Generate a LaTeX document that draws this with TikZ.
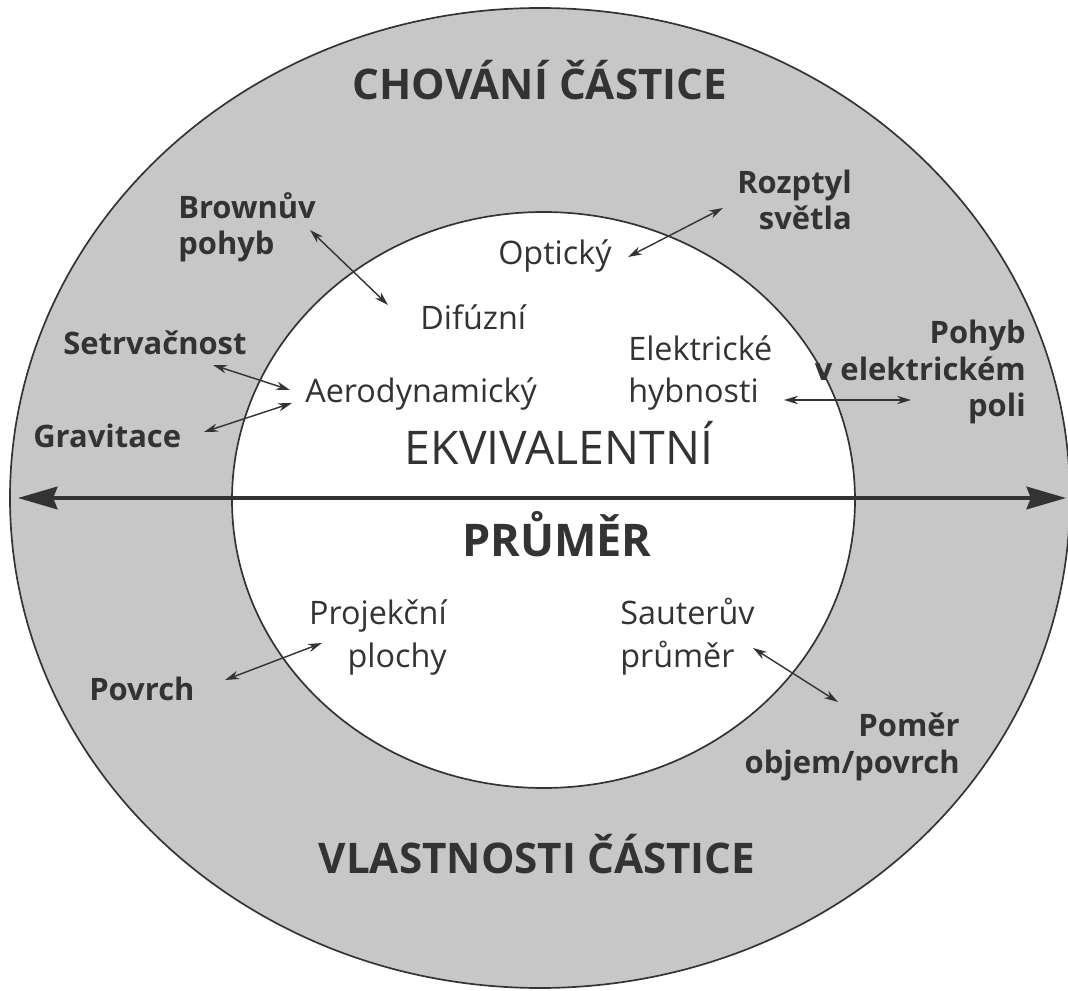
\documentclass[tikz,border=0pt]{standalone}
\usepackage{fontspec}
\setmainfont{Open Sans}
\usetikzlibrary{arrows.meta}
\definecolor{sediva}{gray}{0.78}
\definecolor{tisk}{gray}{0.2}
\tikzset{
  nadpis/.style={font=\bfseries\fontsize{30}{36}\selectfont, text=tisk, inner sep=0pt, anchor=base},
  vnejsi/.style={font=\bfseries\fontsize{22}{26.3}\selectfont, text=tisk, inner sep=0pt},
  vnitrni/.style={font=\fontsize{23}{29.9}\selectfont, text=tisk, inner sep=0pt},
  sipka/.style={{Stealth[length=10pt,width=6pt]}-{Stealth[length=10pt,width=6pt]}, line width=1pt, tisk},
  hlavni/.style={{Stealth[length=28pt,width=16pt,inset=3pt]}-{Stealth[length=28pt,width=16pt,inset=3pt]}, line width=2.8pt, tisk},
}
\begin{document}
\begin{tikzpicture}[x=0.025cm,y=-0.025cm]
        \useasboundingbox (0,0) rectangle (1068,991);
        %Kruhy
        \filldraw[fill=sediva, draw=tisk, line width=1.2pt] (540,498) ellipse [x radius=530, y radius=490];
        \filldraw[fill=white, draw=tisk, line width=1.2pt] (543.5,500) ellipse [x radius=311.5, y radius=288];

        %Nadpisy
        \node[nadpis] (chovani) at (540,100) {CHOVÁNÍ ČÁSTICE};
        \node[nadpis] (vlastnosti) at (537,873) {VLASTNOSTI ČÁSTICE};
        \node[nadpis, font=\bfseries\fontsize{32}{38}\selectfont] (prumer) at (557,557) {PRŮMĚR};
        \node[nadpis, font=\fontsize{33}{40}\selectfont] (ekvi) at (559,465) {EKVIVALENTNÍ};

        %Hlavni sipka
        \coordinate (levy) at (18,498);
        \coordinate (pravy) at (1066,498);
        \draw[hlavni] (levy) -- (pravy);

        %Vnejsi popisky
        \node[vnejsi, anchor=base west, align=left] (brown) at (178,255) {Brownův\\pohyb};
        \node[vnejsi, anchor=base west] (setrv) at (63,355) {Setrvačnost};
        \node[vnejsi, anchor=base west] (grav) at (33,448) {Gravitace};
        \node[vnejsi, anchor=base east, align=right] (rozptyl) at (852,230) {Rozptyl\\světla};
        \node[vnejsi, anchor=base east, align=right] (pohyb) at (1026,417) {Pohyb\\v elektrickém\\poli};
        \node[vnejsi, anchor=base west] (povrch) at (89,700) {Povrch};
        \node[vnejsi, anchor=base east, align=right] (pomer) at (960,773) {Poměr\\objem/povrch};

        %Vnitrni popisky
        \node[vnitrni, anchor=base west] (opt) at (498,265) {Optický};
        \node[vnitrni, anchor=base west] (difuz) at (420,330) {Difúzní};
        \node[vnitrni, anchor=base west] (aero) at (305,403) {Aerodynamický};
        \node[vnitrni, anchor=base west, align=left] (elek) at (628,403) {Elektrické\\hybnosti};
        \node[vnitrni, anchor=base east, align=right] (proj) at (447,667) {Projekční\\plochy};
        \node[vnitrni, anchor=base west, align=left] (sauter) at (620,667) {Sauterův\\průměr};

        %Sipky
        \draw[sipka] ([shift={(132,-25)}]brown.base west) -- ([shift={(-32,-25)}]difuz.base west);
        \draw[sipka] ([shift={(150,10)}]setrv.base west) -- ([shift={(-15,-13)}]aero.base west);
        \draw[sipka] ([shift={(171,-16)}]grav.base west) -- ([shift={(-13,0)}]aero.base west);
        \draw[sipka] ([shift={(130,-8)}]opt.base west) -- ([shift={(-129,-22)}]rozptyl.base east);
        \draw[sipka] ([shift={(156,-3)}]elek.base west) -- ([shift={(-115,-17)}]pohyb.base east);
        \draw[sipka] ([shift={(136,-20)}]povrch.base west) -- ([shift={(-125,-24)}]proj.base east);
        \draw[sipka] ([shift={(133,-19)}]sauter.base west) -- ([shift={(-122,-71)}]pomer.base east);
\end{tikzpicture}
\end{document}
